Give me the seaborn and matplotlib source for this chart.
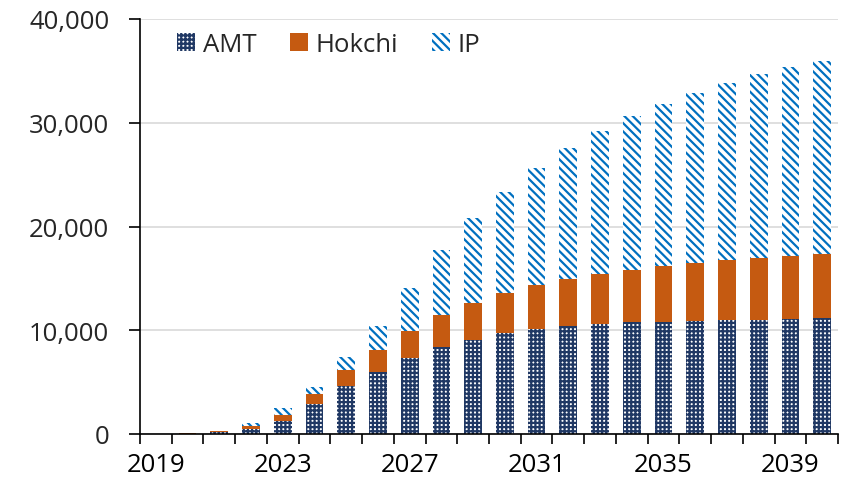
import matplotlib
matplotlib.use("Agg")
import matplotlib.pyplot as plt
import seaborn as sns
import numpy as np
import pandas as pd
from matplotlib.ticker import FuncFormatter, FixedLocator
from matplotlib.patches import Patch

years = list(range(2019, 2041))
amt = [0, 0, 180, 480, 1280, 2890, 4600, 5950, 7300, 8360, 9090, 9710,
       10120, 10380, 10600, 10770, 10820, 10920, 10990, 11020, 11080, 11150]
hokchi = [0, 80, 100, 260, 580, 960, 1600, 2150, 2660, 3110, 3540, 3880,
          4240, 4560, 4820, 5070, 5340, 5560, 5780, 5940, 6080, 6200]
ip = [0, 0, 50, 320, 620, 710, 1190, 2340, 4080, 6260, 8160, 9760,
      11250, 12600, 13780, 14780, 15650, 16390, 17060, 17710, 18180, 18600]
series_names = ["AMT", "Hokchi", "IP"]
tick_years = [2019, 2023, 2027, 2031, 2035, 2039]

df = pd.DataFrame({"year": [str(y) for y in years], "AMT": amt,
                   "Hokchi": hokchi, "IP": ip})

sns.set_style("white")
plt.rcParams["font.family"] = ["Open Sans", "DejaVu Sans"]
plt.rcParams["hatch.linewidth"] = 1.6

fig = plt.figure(figsize=(8.44, 4.89), dpi=100)
ax = fig.add_axes([140/844, 1-435/489, 698/844, 415/489])

navy = "#203864"
orange = "#C55A11"
blue = "#0070C0"
w = 0.56

bottom1 = np.array(amt, dtype=float)
bottom2 = bottom1 + np.array(hokchi, dtype=float)

sns.barplot(data=df, x="year", y="AMT", color="white", saturation=1, width=w,
            edgecolor=navy, linewidth=0, hatch="++++", ax=ax)
sns.barplot(data=df, x="year", y="Hokchi", color=orange, saturation=1, width=w,
            bottom=bottom1, linewidth=0, ax=ax)
sns.barplot(data=df, x="year", y="IP", color="white", saturation=1, width=w,
            bottom=bottom2, edgecolor=blue, linewidth=0, hatch="\\\\\\\\", ax=ax)

ax.set_ylim(0, 40000)
ax.set_xlim(-0.5, len(years) - 0.5)
ax.set_xlabel("")
ax.set_ylabel("")

ax.yaxis.set_major_locator(FixedLocator([0, 10000, 20000, 30000, 40000]))
ax.yaxis.set_major_formatter(FuncFormatter(lambda v, p: f"{int(v):,}"))
ax.grid(axis="y", color="#D9D9D9", linewidth=1.2)
ax.set_axisbelow(True)

pos = [years.index(y) for y in tick_years]
ax.set_xticks(pos)
ax.set_xticklabels([str(y) for y in tick_years])
ax.set_xticks(np.arange(-0.5, len(years), 1.0), minor=True)
ax.tick_params(axis="x", which="major", length=0, pad=13, labelsize=18.5, colors="black")
ax.tick_params(axis="x", which="minor", length=7.5, width=1.2, color="black", direction="out", bottom=True)
ax.tick_params(axis="y", which="major", length=8, width=1.2, color="black", direction="out",
               left=True, pad=14, labelsize=18.5)

for s in ["top", "right"]:
    ax.spines[s].set_visible(False)
for s in ["left", "bottom"]:
    ax.spines[s].set_color("black")
    ax.spines[s].set_linewidth(1.2)

handles = [
    Patch(facecolor="white", edgecolor=navy, linewidth=0, hatch="++++"),
    Patch(facecolor=orange, linewidth=0),
    Patch(facecolor="white", edgecolor=blue, linewidth=0, hatch="\\\\\\\\"),
]
ax.legend(handles, series_names, loc="upper left", bbox_to_anchor=(0.02, 1.025), ncol=3,
          frameon=False, fontsize=18.5, handlelength=0.7, handleheight=0.7,
          handletextpad=0.3, columnspacing=1.3)

fig.savefig("out.png", dpi=100)
